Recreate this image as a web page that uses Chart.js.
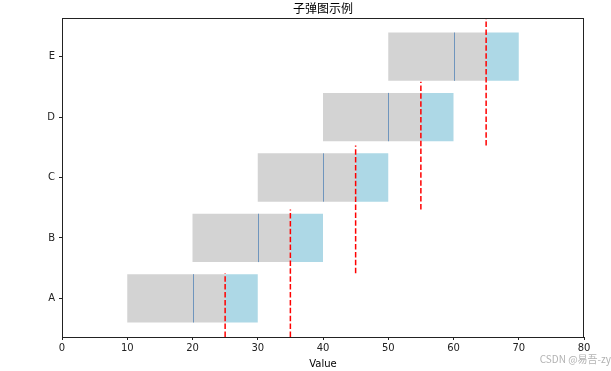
<!DOCTYPE html>
<html><head><meta charset="utf-8">
<script src="https://cdn.jsdelivr.net/npm/chart.js@4"></script>
<style>html,body{margin:0;padding:0;background:#fff}#wrap{width:611px;height:371px}</style>
</head><body><div id="wrap"><canvas id="c"></canvas></div>
<script>
const categories = ['A','B','C','D','E'];
const rangeStart = [10,20,30,40,50];
const targetVals = [25,35,45,55,65];
const rangeEnd = [30,40,50,60,70];
const markerVals = [20,30,40,50,60];
const xTicks = [0,10,20,30,40,50,60,70,80];
const titleText = '子弹图示例';
const xLabel = 'Value';

const grayData = categories.map((c,i)=>({y:i, x:[rangeStart[i], targetVals[i]]}));
const blueData = categories.map((c,i)=>({y:i, x:[targetVals[i], rangeEnd[i]]}));

const overlay = {
  id:'overlay',
  afterDatasetsDraw(chart){
    const {ctx, chartArea:a, scales:{x,y}} = chart;
    ctx.save();
    ctx.strokeStyle = '#6f95bd'; ctx.lineWidth = 1;
    markerVals.forEach((v,i)=>{
      const px = Math.round(x.getPixelForValue(v))+0.5;
      ctx.beginPath();
      ctx.moveTo(px, y.getPixelForValue(i-0.4));
      ctx.lineTo(px, y.getPixelForValue(i+0.4));
      ctx.stroke();
    });
    ctx.strokeStyle = 'red'; ctx.lineWidth = 1.5; ctx.setLineDash([5.5,2.4]);
    const n = categories.length;
    targetVals.forEach((v,i)=>{
      const px = x.getPixelForValue(v);
      const f0 = Math.max(0,(i-1)/n), f1 = Math.min(1,(i+1)/n);
      ctx.beginPath();
      ctx.moveTo(px, a.bottom - f0*(a.bottom-a.top));
      ctx.lineTo(px, a.bottom - f1*(a.bottom-a.top));
      ctx.stroke();
    });
    ctx.setLineDash([]);
    ctx.strokeStyle = '#222'; ctx.lineWidth = 1;
    ctx.strokeRect(Math.round(a.left)+0.5, Math.round(a.top)+0.5, Math.round(a.right-a.left)-1, Math.round(a.bottom-a.top));
    ctx.fillStyle = '#000';
    ctx.font = '12px "Noto Sans CJK SC", sans-serif';
    ctx.textAlign = 'center'; ctx.textBaseline = 'middle';
    ctx.fillText(titleText, (a.left+a.right)/2, 8);
    ctx.fillStyle = 'rgba(170,170,170,0.9)';
    ctx.font = '10px "Noto Sans CJK SC", sans-serif';
    ctx.textAlign = 'right';
    ctx.fillText('CSDN @易吾-zy', 611, 359);
    ctx.restore();
  }
};

new Chart(document.getElementById('c'), {
  type:'bar',
  data:{datasets:[
    {data:grayData, backgroundColor:'#d3d3d3', grouped:false, barPercentage:0.8, categoryPercentage:1.0, borderWidth:0},
    {data:blueData, backgroundColor:'#add8e6', grouped:false, barPercentage:0.8, categoryPercentage:1.0, borderWidth:0}
  ]},
  options:{
    indexAxis:'y', responsive:true, maintainAspectRatio:false, animation:false,
    layout:{padding:{left:0,right:27,top:18,bottom:0}},
    plugins:{legend:{display:false}, tooltip:{enabled:false}, title:{display:false}},
    scales:{
      x:{type:'linear', min:0, max:80, offset:false,
        afterBuildTicks(s){ s.ticks = xTicks.map(v=>({value:v})); },
        afterFit(s){ s.height = 34; },
        grid:{drawOnChartArea:false, drawTicks:true, tickLength:3, color:'#222', offset:false},
        border:{display:false},
        ticks:{color:'#222', font:{family:'DejaVu Sans', size:10}, padding:2, maxRotation:0},
        title:{display:true, text:xLabel, color:'#000', font:{family:'DejaVu Sans', size:10}, padding:{top:0,bottom:1}}
      },
      y:{type:'linear', min:-0.64, max:4.64, offset:false,
        afterBuildTicks(s){ s.ticks = categories.map((c,i)=>({value:i})); },
        afterFit(s){ s.width = 62; },
        grid:{drawOnChartArea:false, drawTicks:true, tickLength:3, color:'#222', offset:false},
        border:{display:false},
        ticks:{color:'#222', font:{family:'DejaVu Sans', size:10}, padding:4, callback:(v)=>categories[v] ?? ''}
      }
    }
  },
  plugins:[overlay]
});
</script></body></html>
